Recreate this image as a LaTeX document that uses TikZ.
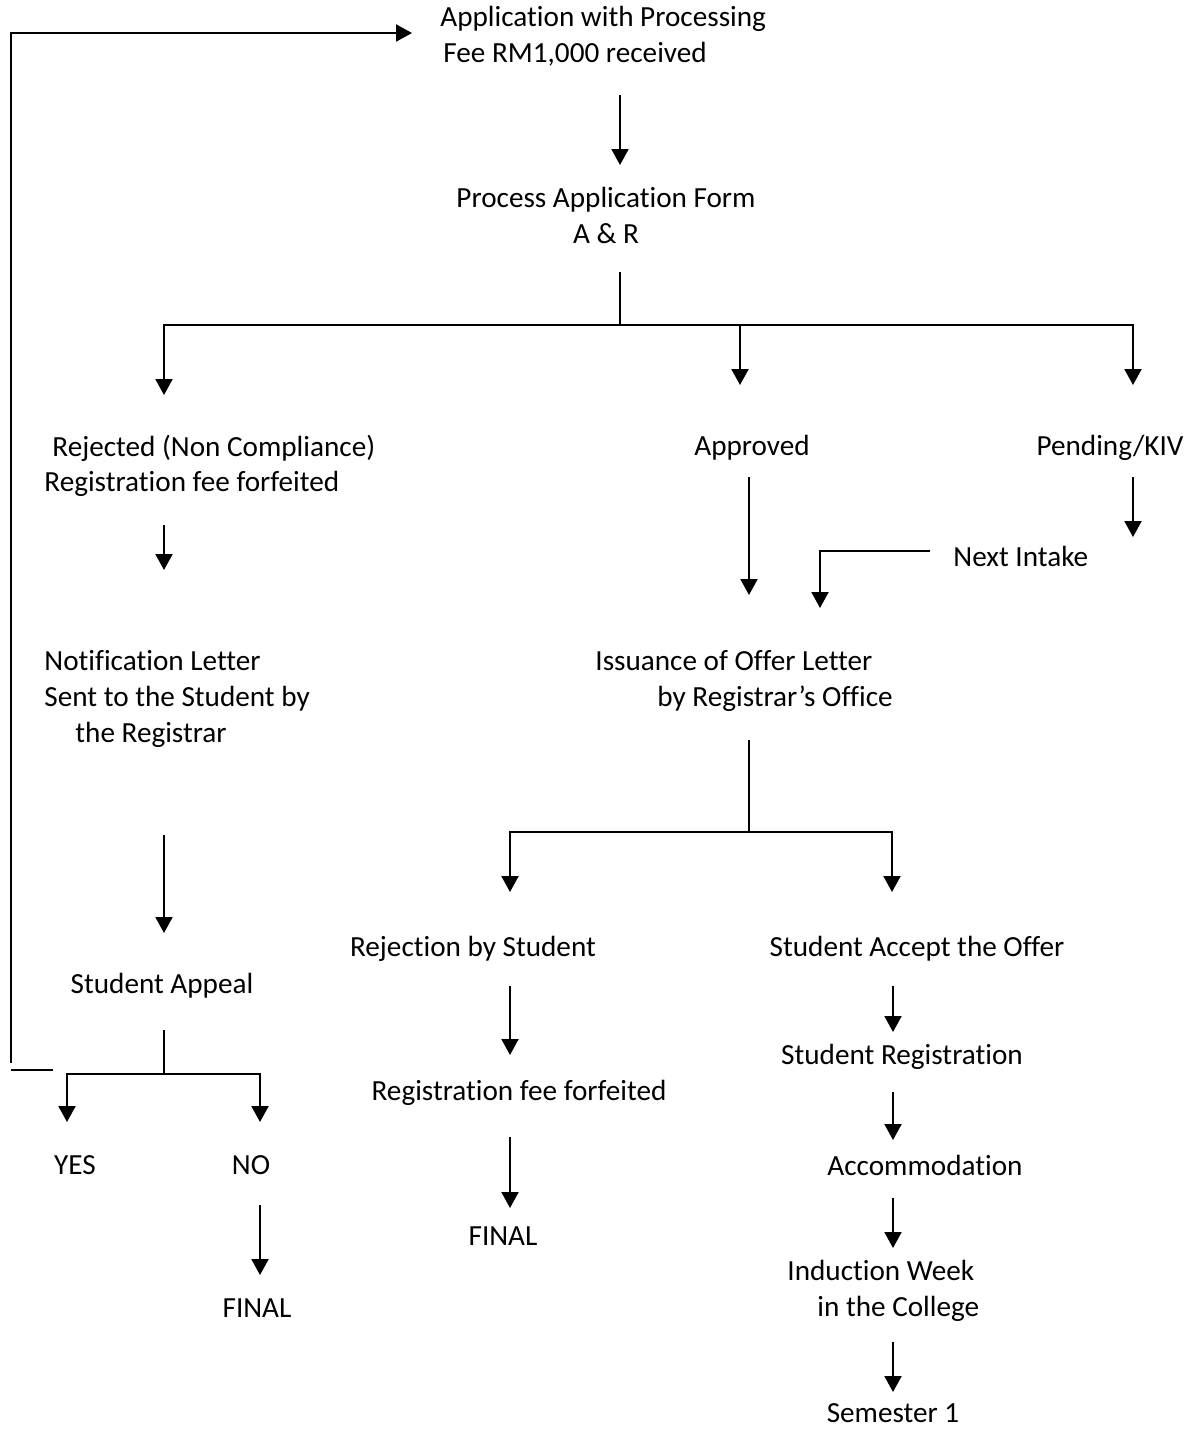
\documentclass[tikz,border=0pt]{standalone}
\usepackage{fontspec}
\setmainfont{Carlito}[Ligatures={NoCommon,NoRequired,NoContextual}]
\usetikzlibrary{arrows.meta, calc}

\begin{document}
\begin{tikzpicture}[
    x=0.5pt, y=-0.5pt,
    txt/.style={inner sep=0pt, align=left, text=black,
        font=\fontsize{14.6}{17.8}\selectfont},
    ctxt/.style={txt, align=center},
    arr/.style={-{Triangle[length=8pt, width=8.5pt]}, line width=1pt},
    ln/.style={line width=1pt},
]
\useasboundingbox (0,0) rectangle (1191,1429);

% ---------------------------------------------------------------- top
\node (app)  [txt, anchor=west] at (440,36)
    {Application with Processing\\\hspace*{1.5pt}Fee RM1,000 received};
\node (proc) [ctxt] at (606,215.5) {Process Application Form\\A \& R};

\draw [arr] ($(app.west)+(180,59)$) -- ($(proc.center)+(14,-50.5)$);

\coordinate (split) at ($(proc.center)+(14,109.5)$);
\draw [ln] ($(proc.center)+(14,56.5)$) -- (split);

% ---------------------------------------------------------------- outcomes
\node (rej)  [txt, anchor=west] at (44,466)
    {\hspace*{4pt}Rejected (Non Compliance)\\Registration fee forfeited};
\node (appr) [ctxt] at (752,448)  {Approved};
\node (pend) [ctxt] at (1110,448) {Pending/KIV};
\node (next) [txt, anchor=west] at (953,556) {Next Intake};

\draw [arr] (split) -| ($(rej.west)+(120,-71)$);
\draw [arr] (split) -| ($(pend.center)+(23,-63)$);
\draw [arr] ($(appr.center)+(-12,-123)$) -- ($(appr.center)+(-12,-63)$);

% ---------------------------------------------------------------- letters
\node (notif) [txt, anchor=west] at (44,699)
    {Notification Letter\\Sent to the Student by\\\hspace*{15.5pt}the Registrar};
\node (iss)   [txt, anchor=west] at (595,681)
    {Issuance of Offer Letter\\\hspace*{31pt}by Registrar’s Office};

\draw [arr] ($(rej.west)+(120,59)$) -- ($(rej.west)+(120,104)$);
\draw [arr] ($(appr.center)+(-3,29)$) -- ($(iss.west)+(154,-86)$);
\draw [arr] ($(pend.center)+(23,29)$) -- ($(pend.center)+(23,89)$);
\draw [arr] ($(next.west)+(-23,-5)$) -| ($(iss.west)+(225,-73)$);

% ---------------------------------------------------------------- offer
\node (rejstu) [ctxt] at (473,949) {Rejection by Student};
\node (accept) [ctxt] at (917,949) {Student Accept the Offer};

\coordinate (split2) at ($(iss.west)+(154,151)$);
\draw [ln] ($(iss.west)+(154,59)$) -- (split2);
\draw [arr] (split2) -| ($(rejstu.center)+(37,-57)$);
\draw [arr] (split2) -| ($(accept.center)+(-25,-57)$);

% ---------------------------------------------------------------- appeal
\node (appeal) [ctxt] at (162,986)  {Student Appeal};
\node (yes)    [ctxt] at (75,1165)  {YES};
\node (no)     [ctxt] at (251,1165) {NO};
\node (final2) [ctxt] at (257,1308) {FINAL};

\draw [arr] ($(notif.west)+(120,136)$) -- ($(appeal.center)+(2,-53)$);
\coordinate (split3) at ($(appeal.center)+(2,88)$);
\draw [ln] ($(appeal.center)+(2,44)$) -- (split3);
\draw [arr] (split3) -| ($(yes.center)+(-8,-43)$);
\draw [arr] (split3) -| ($(no.center)+(9,-43)$);
\draw [arr] ($(no.center)+(9,40)$) -- ($(final2.center)+(3,-33)$);

\draw [ln] ($(yes.center)+(-64,-95)$) -- ++(42,0);
\draw [arr] ($(yes.center)+(-64,-102)$) |- ($(app.west)+(-28,-3)$);

% ---------------------------------------------------------------- rejection by student
\node (regfee) [ctxt] at (519,1093) {Registration fee forfeited};
\node (final1) [ctxt] at (503,1236) {FINAL};

\draw [arr] ($(rejstu.center)+(37,37)$) -- ($(regfee.center)+(-9,-38)$);
\draw [arr] ($(regfee.center)+(-9,44)$) -- ($(final1.center)+(7,-28)$);

% ---------------------------------------------------------------- acceptance
\node (studreg) [ctxt] at (902,1057) {Student Registration};
\node (accom)   [ctxt] at (925,1165) {Accommodation};
\node (induct)  [txt, anchor=west] at (787,1291)
    {Induction Week\\\hspace*{15pt}in the College};
\node (sem)     [ctxt] at (893,1413) {Semester 1};

\draw [arr] ($(accept.center)+(-24,37)$) -- ($(studreg.center)+(-9,-25)$);
\draw [arr] ($(studreg.center)+(-9,35)$) -- ($(accom.center)+(-32,-25)$);
\draw [arr] ($(accom.center)+(-32,33)$) -- ($(induct.west)+(106,-43)$);
\draw [arr] ($(induct.west)+(106,51)$) -- ($(sem.center)+(0,-21)$);

\end{tikzpicture}
\end{document}
